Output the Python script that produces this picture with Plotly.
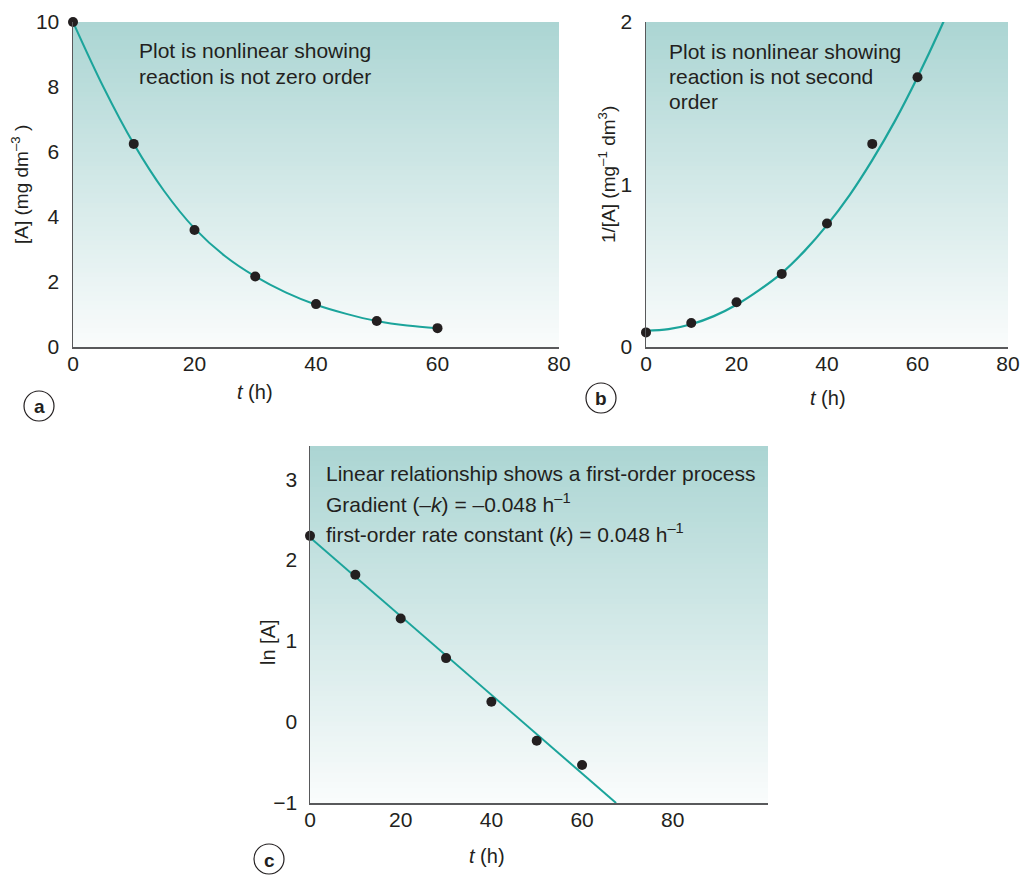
import plotly.graph_objects as go

W, H = 1022, 875

# ---- data ----
t_points = [0, 10, 20, 30, 40, 50, 60]
conc_a = [10, 6.25, 3.6, 2.17, 1.32, 0.8, 0.58]          # [A] (mg dm^-3)
inv_b = [0.09, 0.148, 0.275, 0.45, 0.76, 1.25, 1.66]      # 1/[A]
ln_c = [2.3, 1.82, 1.28, 0.79, 0.25, -0.23, -0.53]        # ln[A]

curve_t_a = [0, 5, 10, 15, 20, 25, 30, 35, 40, 45, 50, 55, 60]
curve_a = [10, 8.0, 6.25, 4.8, 3.65, 2.8, 2.17, 1.68, 1.3, 1.02, 0.8, 0.66, 0.58]

curve_t_b = [0, 5, 10, 15, 20, 25, 30, 35, 40, 45, 50, 55, 60, 65, 70]
curve_b = [0.1, 0.11, 0.14, 0.19, 0.26, 0.35, 0.455, 0.59, 0.75, 0.935, 1.15, 1.39, 1.66, 1.955, 2.28]

line_t_c = [0, 67.5]
line_c = [2.28, -1.0]

x_ticks_ab = [0, 20, 40, 60, 80]
y_ticks_a = [0, 2, 4, 6, 8, 10]
y_ticks_b = [0, 1, 2]
x_ticks_c = [0, 20, 40, 60, 80]
y_ticks_c = [-1, 0, 1, 2, 3]

# ---- styles ----
FONT = "Liberation Sans, Arial, Helvetica, sans-serif"
TXT = "#231f20"
TEAL = "#1ba49b"
AXC = "#58595b"
TOP = (171, 213, 211)
BOT = (250, 252, 252)


def px_x(x):
    return x / W


def px_y(y):
    return 1 - y / H


fig = go.Figure()

# panel a
fig.add_trace(go.Scatter(x=curve_t_a, y=curve_a, mode="lines", line=dict(color=TEAL, width=2, shape="spline"),
                         xaxis="x", yaxis="y", hoverinfo="skip"))
fig.add_trace(go.Scatter(x=t_points, y=conc_a, mode="markers", marker=dict(color=TXT, size=10),
                         cliponaxis=False, xaxis="x", yaxis="y"))
# panel b
fig.add_trace(go.Scatter(x=curve_t_b, y=curve_b, mode="lines", line=dict(color=TEAL, width=2.2, shape="spline"),
                         xaxis="x2", yaxis="y2", hoverinfo="skip"))
fig.add_trace(go.Scatter(x=t_points, y=inv_b, mode="markers", marker=dict(color=TXT, size=10),
                         cliponaxis=False, xaxis="x2", yaxis="y2"))
# panel c
fig.add_trace(go.Scatter(x=line_t_c, y=line_c, mode="lines", line=dict(color=TEAL, width=2),
                         xaxis="x3", yaxis="y3", hoverinfo="skip"))
fig.add_trace(go.Scatter(x=t_points, y=ln_c, mode="markers", marker=dict(color=TXT, size=10),
                         cliponaxis=False, xaxis="x3", yaxis="y3"))


def axis(domain, rng, tickvals, anchor, stand):
    return dict(domain=domain, range=rng, tickvals=tickvals, anchor=anchor,
                showline=True, linecolor=AXC, linewidth=1.5, mirror=False,
                showgrid=False, zeroline=False, ticks="", automargin=False,
                tickfont=dict(family=FONT, size=21, color=TXT),
                ticklabelstandoff=stand, fixedrange=True)


dom_a_x = [px_x(73), px_x(559)]
dom_b_x = [px_x(646), px_x(1008)]
dom_ab_y = [px_y(347), px_y(22)]
dom_c_x = [px_x(310), px_x(768)]
dom_c_y = [px_y(803), px_y(446)]

layout = dict(
    width=W, height=H, margin=dict(l=0, r=0, t=0, b=0, autoexpand=False),
    paper_bgcolor="white", plot_bgcolor="white", showlegend=False,
    font=dict(family=FONT, color=TXT),
    xaxis=axis(dom_a_x, [0, 80], x_ticks_ab, "y", -3),
    yaxis=axis(dom_ab_y, [0, 10], y_ticks_a, "x", 8),
    xaxis2=axis(dom_b_x, [0, 80], x_ticks_ab, "y2", -3),
    yaxis2=axis(dom_ab_y, [0, 2], y_ticks_b, "x2", 8),
    xaxis3=axis(dom_c_x, [0, 101], x_ticks_c, "y3", -3),
    yaxis3=axis(dom_c_y, [-1, 3.41], y_ticks_c, "x3", 7),
)
fig.update_layout(**layout)

# gradient backgrounds
shapes = []
N = 70
for xr, yr in [("x", "y"), ("x2", "y2"), ("x3", "y3")]:
    for i in range(N):
        f = (i + 0.5) / N  # 0 at bottom -> 1 at top
        c = tuple(round(BOT[k] + (TOP[k] - BOT[k]) * f) for k in range(3))
        shapes.append(dict(type="rect", xref=f"{xr} domain", yref=f"{yr} domain",
                           x0=0, x1=1, y0=i / N, y1=min(1, (i + 1) / N + 0.004),
                           fillcolor="rgb(%d,%d,%d)" % c, line=dict(width=0), layer="below"))

# circled panel letters
annotations = []
for letter, cx, cy in [("a", 39, 406), ("b", 601, 398), ("c", 269, 859)]:
    r = 15
    shapes.append(dict(type="circle", xref="paper", yref="paper",
                       x0=px_x(cx - r), x1=px_x(cx + r), y0=px_y(cy + r), y1=px_y(cy - r),
                       line=dict(color=TXT, width=1.2), fillcolor="white"))
    annotations.append(dict(text="<b>%s</b>" % letter, x=px_x(cx), y=px_y(cy + 1), xref="paper", yref="paper",
                            showarrow=False, xanchor="center", yanchor="middle",
                            font=dict(family=FONT, size=19, color=TXT)))

fig.update_layout(shapes=shapes)


def note(text, x, y, size=21, angle=0, anchor="left"):
    annotations.append(dict(text=text, x=px_x(x), y=px_y(y), xref="paper", yref="paper",
                            showarrow=False, xanchor=anchor, yanchor="middle", textangle=angle,
                            font=dict(family=FONT, size=size, color=TXT)))


# in-plot texts
note("Plot is nonlinear showing", 137, 50)
note("reaction is not zero order", 137, 77)
note("Plot is nonlinear showing", 667, 52)
note("reaction is not second", 667, 77)
note("order", 667, 102)
note("Linear relationship shows a first-order process", 324, 473)
note("Gradient (–<i>k</i>) = –0.048 h<sup>–1</sup>", 324, 503)
note("first-order rate constant (<i>k</i>) = 0.048 h<sup>–1</sup>", 324, 533)

# axis titles
note("<i>t</i> (h)", 255, 392, size=20, anchor="center")
note("<i>t</i> (h)", 828, 398, size=20, anchor="center")
note("<i>t</i> (h)", 487, 856, size=20, anchor="center")
note("[A] (mg dm<sup>–3</sup> )", 20, 185, size=19, angle=-90, anchor="center")
note("1/[A] (mg<sup>–1</sup> dm<sup>3</sup>)", 607, 175, size=19, angle=-90, anchor="center")
note("ln [A]", 268, 642, size=20, angle=-90, anchor="center")

fig.update_layout(annotations=annotations)

# remove the default page margin so the figure fills the 1022x875 window exactly
fig.write_html("out.html",
               config={"displayModeBar": False, "staticPlot": True},
               post_script="document.body.style.margin='0';document.body.style.overflow='hidden';")
